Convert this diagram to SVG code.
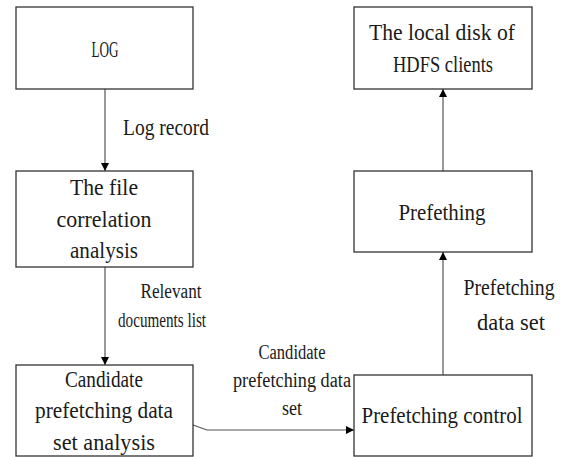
<svg xmlns="http://www.w3.org/2000/svg" width="567" height="457" viewBox="0 0 567 457">
<style>
.box{fill:#fff;stroke:#333;stroke-width:1.3}
.t{font-family:'Liberation Serif','Times New Roman',serif;font-size:23px;fill:#1a1a1a;text-anchor:middle}
.s{font-family:'Liberation Serif','Times New Roman',serif;font-size:20px;fill:#1a1a1a;text-anchor:middle}
.c{fill:none;stroke:#555;stroke-width:1.2}
</style>
<defs>
<marker id="ah" viewBox="0 0 10 10" refX="10" refY="5" markerWidth="8" markerHeight="8" markerUnits="userSpaceOnUse" orient="auto">
<path d="M0,0 L10,5 L0,10 z" fill="#000"/>
</marker>
</defs>
<rect width="567" height="457" fill="#fff"/>
<g id="connectors">
<line class="c" x1="105" y1="89" x2="105" y2="171" marker-end="url(#ah)"/>
<line class="c" x1="105" y1="267" x2="105" y2="365" marker-end="url(#ah)"/>
<polyline class="c" points="193,425 207,430 354,430" marker-end="url(#ah)"/>
<line class="c" x1="443" y1="375" x2="443" y2="252" marker-end="url(#ah)"/>
<line class="c" x1="443" y1="171" x2="443" y2="89" marker-end="url(#ah)"/>
<text class="t" x="166" y="135" textLength="86" lengthAdjust="spacingAndGlyphs">Log record</text>
<text class="s" x="171" y="298" textLength="61" lengthAdjust="spacingAndGlyphs">Relevant</text>
<text class="s" x="162" y="327" textLength="88" lengthAdjust="spacingAndGlyphs">documents list</text>
<text class="s" x="292" y="359" textLength="67" lengthAdjust="spacingAndGlyphs">Candidate</text>
<text class="s" x="292" y="387" textLength="118" lengthAdjust="spacingAndGlyphs">prefetching data</text>
<text class="s" x="292" y="415" textLength="20" lengthAdjust="spacingAndGlyphs">set</text>
<text class="t" x="509" y="295" textLength="91" lengthAdjust="spacingAndGlyphs">Prefetching</text>
<text class="t" x="511" y="330" textLength="68" lengthAdjust="spacingAndGlyphs">data set</text>
</g>
<g id="log">
<rect class="box" x="16" y="7" width="177" height="82"/>
<text class="t" x="105" y="57" textLength="27" lengthAdjust="spacingAndGlyphs">LOG</text>
</g>
<g id="correlation">
<rect class="box" x="16" y="171" width="177" height="96"/>
<text class="t" x="104" y="195" textLength="68" lengthAdjust="spacingAndGlyphs">The file</text>
<text class="t" x="104" y="227" textLength="95" lengthAdjust="spacingAndGlyphs">correlation</text>
<text class="t" x="104" y="258" textLength="68" lengthAdjust="spacingAndGlyphs">analysis</text>
</g>
<g id="candidate">
<rect class="box" x="16" y="365" width="177" height="91"/>
<text class="t" x="104" y="387" textLength="78" lengthAdjust="spacingAndGlyphs">Candidate</text>
<text class="t" x="104" y="418" textLength="138" lengthAdjust="spacingAndGlyphs">prefetching data</text>
<text class="t" x="104" y="450" textLength="102" lengthAdjust="spacingAndGlyphs">set analysis</text>
</g>
<g id="control">
<rect class="box" x="354" y="375" width="178" height="81"/>
<text class="t" x="442" y="423" textLength="161" lengthAdjust="spacingAndGlyphs">Prefetching control</text>
</g>
<g id="prefething">
<rect class="box" x="354" y="171" width="178" height="81"/>
<text class="t" x="442" y="220" textLength="87" lengthAdjust="spacingAndGlyphs">Prefething</text>
</g>
<g id="disk">
<rect class="box" x="354" y="7" width="178" height="82"/>
<text class="t" x="442" y="40" textLength="146" lengthAdjust="spacingAndGlyphs">The local disk of</text>
<text class="t" x="443" y="72" textLength="100" lengthAdjust="spacingAndGlyphs">HDFS clients</text>
</g>
</svg>
